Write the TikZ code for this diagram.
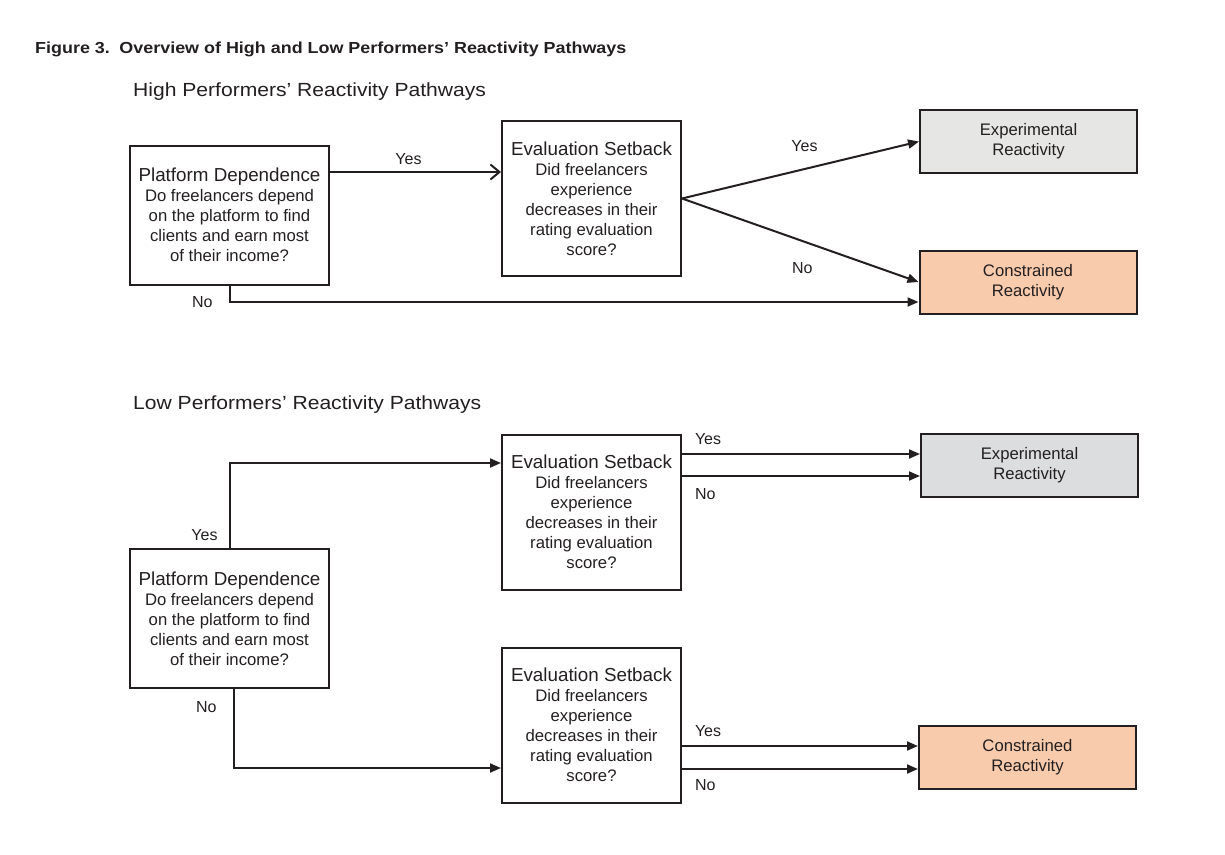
\documentclass[tikz,border=0pt]{standalone}
\usepackage{fontspec}
\setmainfont{Liberation Sans}
\newfontfamily\figtitlefont[FakeStretch=1.12]{Liberation Sans}
\newfontfamily\pathheadfont[FakeStretch=1.11]{Liberation Sans}
\usetikzlibrary{arrows.meta,positioning}
\usepackage{xcolor}

\definecolor{ink}{HTML}{231F20}
\definecolor{expgrey}{HTML}{E6E6E4}
\definecolor{expgreylow}{HTML}{DCDDDE}
\definecolor{conspeach}{HTML}{F8CBAD}

\newcommand{\pdtext}{{\fontsize{18.8}{20}\selectfont Platform Dependence}\\
    Do freelancers depend\\ on the platform to find\\ clients and earn most\\ of their income?}
\newcommand{\estext}{{\fontsize{18.8}{20}\selectfont Evaluation Setback}\\
    Did freelancers\\ experience\\ decreases in their\\ rating evaluation\\ score?}

\begin{document}
\begin{tikzpicture}[x=1pt, y=-1pt,
    box/.style={
        rectangle,
        draw=ink,
        line width=2pt,
        text=ink,
        align=center,
        inner sep=2pt,
        font=\fontsize{16.7}{20}\selectfont
    },
    pdbox/.style={box, minimum width=199pt, minimum height=139pt},
    esbox/.style={box, minimum width=179pt, minimum height=155pt},
    outbox/.style={box, minimum width=217pt, minimum height=63pt},
    lab/.style={inner sep=0pt, text=ink, font=\fontsize{16}{18}\selectfont},
    flow/.style={draw=ink, line width=2pt, -{Triangle[length=11pt,width=9pt]}},
    openflow/.style={draw=ink, line width=2pt, -{Straight Barb[length=9pt,width=15pt]}}
]
    \useasboundingbox (0,0) rectangle (1225,854);

    % headings
    \node (fig_title) [anchor=base west, inner sep=0pt, text=ink, shift={(35, 53)}]
    {
        \figtitlefont\bfseries\fontsize{16}{18}\selectfont Figure 3.\hspace{0.6em}Overview of High and Low Performers’ Reactivity Pathways
    };
    \node (high_head) [anchor=base west, inner sep=0pt, text=ink, shift={(133, 96)}]
    {
        \pathheadfont\fontsize{19}{22}\selectfont High Performers’ Reactivity Pathways
    };
    \node (low_head) [anchor=base west, inner sep=0pt, text=ink, shift={(133, 409)}]
    {
        \pathheadfont\fontsize{19}{22}\selectfont Low Performers’ Reactivity Pathways
    };

    % high performers
    \node (pd_high) [pdbox, shift={(229.5, 215)}]
    {
        \pdtext
    };
    \node (es_high) [esbox, shift={(591.5, 198.5)}]
    {
        \estext
    };
    \node (exp_high) [outbox, fill=expgrey, shift={(1028.5, 141.5)}]
    {
        Experimental\\ Reactivity
    };
    \node (cons_high) [outbox, fill=conspeach, shift={(1028, 282)}]
    {
        Constrained\\ Reactivity
    };

    % low performers
    \node (pd_low) [pdbox, shift={(229.5, 618.5)}]
    {
        \pdtext
    };
    \node (es_low_yes) [esbox, shift={(591.5, 512)}]
    {
        \estext
    };
    \node (es_low_no) [esbox, shift={(591.5, 725)}]
    {
        \estext
    };
    \node (exp_low) [outbox, fill=expgreylow, shift={(1029.5, 465.5)}]
    {
        Experimental\\ Reactivity
    };
    \node (cons_low) [outbox, fill=conspeach, shift={(1027.5, 757.5)}]
    {
        Constrained\\ Reactivity
    };

    \draw[openflow] ([yshift=43pt]pd_high.east) -- ([yshift=43pt]pd_high.east -| es_high.west)
        node[lab, midway, above=6pt, xshift=-7pt] {Yes};
    \draw[flow] (es_high.east) -- (exp_high.west)
        node[lab, midway, xshift=4pt, yshift=24pt] {Yes};
    \draw[flow] (es_high.east) -- (cons_high.west)
        node[lab, midway, xshift=2pt, yshift=-28pt] {No};
    \draw[flow] (pd_high.south) |- ([yshift=-20pt]cons_high.west)
        node[lab, pos=0.5, left=16pt] {No};

    \draw[flow] (pd_low.north) |- ([yshift=49pt]es_low_yes.west)
        node[lab, pos=0, anchor=south east, xshift=-11pt, yshift=6pt] {Yes};
    \draw[flow] ([xshift=4pt]pd_low.south) |- ([yshift=-43pt]es_low_no.west)
        node[lab, pos=0, anchor=north east, xshift=-16pt, yshift=-11pt] {No};

    \draw[flow] ([yshift=58pt]es_low_yes.east) -- ([yshift=58pt]es_low_yes.east -| exp_low.west)
        node[lab, pos=0, anchor=south west, xshift=12pt, yshift=8pt] {Yes};
    \draw[flow] ([yshift=36pt]es_low_yes.east) -- ([yshift=36pt]es_low_yes.east -| exp_low.west)
        node[lab, pos=0, anchor=north west, xshift=12pt, yshift=-11pt] {No};
    \draw[flow] ([yshift=-21pt]es_low_no.east) -- ([yshift=-21pt]es_low_no.east -| cons_low.west)
        node[lab, pos=0, anchor=south west, xshift=12pt, yshift=8pt] {Yes};
    \draw[flow] ([yshift=-44pt]es_low_no.east) -- ([yshift=-44pt]es_low_no.east -| cons_low.west)
        node[lab, pos=0, anchor=north west, xshift=12pt, yshift=-9pt] {No};

\end{tikzpicture}
\end{document}
